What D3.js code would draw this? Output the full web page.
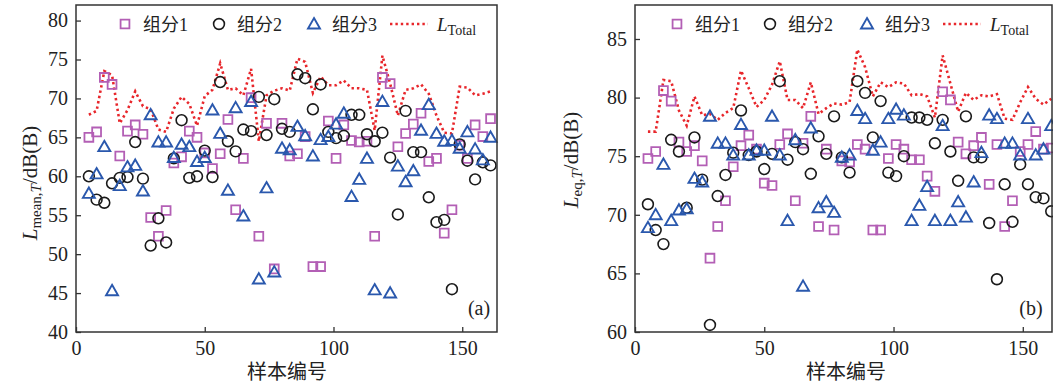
<!DOCTYPE html>
<html>
<head>
<meta charset="utf-8">
<script src="https://cdn.jsdelivr.net/npm/d3@7"></script>
<style>
  body { margin: 0; background: #fff; }
  svg text { font-family: "Liberation Serif", "Noto Sans CJK SC", serif; fill: #222; }
</style>
</head>
<body>
<svg width="1053" height="387"></svg>
<script>
// sample index (x position of every sample)
let samples = [5, 8, 11, 14, 17, 20, 23, 26, 29, 32, 35, 38, 41, 44, 47, 50, 53, 56, 59, 62,
  65, 68, 71, 74, 77, 80, 83, 86, 89, 92, 95, 98, 101, 104, 107, 110, 113, 116, 119, 122,
  125, 128, 131, 134, 137, 140, 143, 146, 149, 152, 155, 158, 161];

// (a) L_mean,T
let meanC1 = [65.0, 65.7, 72.7, 71.8, 62.6, 65.8, 66.6, 65.4, 54.7, 52.3, 55.6, 61.7, 62.5, 65.8, 65.0, 63.0, 61.0, 62.9, 67.3, 55.7,
  62.3, 70.1, 52.3, 66.8, 48.1, 66.8, 62.6, 62.9, 65.1, 48.4, 48.4, 67.1, 62.3, 66.6, 64.6, 64.4, 64.5, 52.3, 72.7, 71.9,
  63.8, 65.5, 66.7, 68.1, 61.9, 62.3, 52.7, 55.7, 64.0, 62.3, 66.6, 65.1, 67.4];
let meanC2 = [60.0, 57.0, 56.6, 59.1, 59.8, 59.9, 64.4, 59.7, 51.1, 54.6, 51.5, 62.3, 67.2, 59.8, 60.0, 63.3, 59.9, 72.1, 64.5, 63.2,
  66.0, 65.8, 70.2, 65.3, 69.9, 66.1, 65.7, 73.1, 72.6, 68.6, 71.8, 65.7, 64.9, 65.2, 67.9, 67.9, 65.4, 64.5, 65.6, 62.4,
  55.1, 68.4, 63.1, 63.1, 57.3, 54.1, 54.4, 45.5, 64.1, 62.0, 59.6, 61.8, 61.4];
let meanC3 = [57.8, 60.3, 63.8, 45.3, 58.8, 61.2, 61.4, 58.1, 67.9, 64.4, 64.4, 62.4, 64.1, 63.8, 61.9, 62.4, 68.5, 65.5, 58.2, 68.8,
  54.9, 69.6, 46.8, 58.5, 47.7, 63.6, 63.4, 66.4, 65.2, 62.6, 64.7, 65.1, 66.7, 68.1, 57.4, 59.6, 62.3, 45.4, 69.6, 45.0,
  61.3, 59.3, 60.7, 65.9, 69.2, 65.5, 64.5, 64.6, 63.6, 65.7, 63.5, 62.1, 65.0];
let meanTotal = [67.9, 68.4, 73.5, 73.0, 66.8, 68.5, 70.9, 69.0, 68.6, 66.0, 65.7, 68.7, 70.2, 69.3, 66.5, 70.3, 71.1, 74.5, 71.1, 71.3,
  70.4, 73.8, 64.5, 70.4, 71.0, 71.3, 71.0, 75.1, 74.7, 70.7, 72.8, 71.7, 71.7, 72.3, 71.3, 71.3, 71.1, 65.9, 75.5, 71.9,
  67.8, 71.1, 71.3, 71.8, 70.6, 67.8, 65.6, 65.5, 71.5, 71.4, 70.4, 70.6, 70.9];

// (b) L_eq,T
let eqC1 = [74.8, 75.4, 80.6, 79.7, 76.2, 75.4, 75.9, 74.6, 66.3, 69.0, 71.2, 74.1, 75.9, 76.8, 75.6, 72.7, 72.5, 76.0, 76.9, 71.2,
  76.1, 78.4, 69.0, 75.6, 68.7, 74.6, 74.5, 76.0, 75.6, 68.7, 68.7, 74.8, 76.0, 75.6, 74.7, 74.7, 73.3, 72.0, 80.5, 79.8,
  76.2, 75.2, 75.9, 76.6, 72.6, 76.0, 69.0, 71.2, 75.4, 76.0, 77.1, 75.6, 75.7];
let eqC2 = [70.9, 68.7, 67.5, 76.4, 75.4, 70.6, 76.6, 73.0, 60.6, 71.6, 73.4, 75.3, 78.9, 75.1, 75.4, 73.9, 75.2, 81.4, 74.7, 76.2,
  75.6, 73.5, 76.7, 75.2, 78.4, 74.9, 73.6, 81.4, 80.4, 76.6, 79.7, 73.6, 73.3, 75.0, 78.3, 78.3, 78.1, 76.1, 78.1, 75.4,
  72.9, 78.4, 74.9, 74.9, 69.3, 64.5, 72.6, 69.4, 74.3, 72.6, 71.5, 71.4, 70.3];
let eqC3 = [68.9, 70.0, 74.3, 69.5, 70.4, 70.5, 73.1, 72.8, 78.4, 76.1, 76.1, 75.1, 77.7, 75.1, 75.5, 75.5, 78.4, 75.1, 69.5, 76.4,
  63.9, 77.4, 70.6, 71.1, 70.2, 74.9, 75.1, 78.9, 78.2, 75.5, 76.2, 78.2, 79.0, 78.5, 69.5, 70.8, 72.4, 69.5, 77.6, 69.5,
  71.1, 69.8, 72.8, 75.3, 78.5, 78.2, 76.1, 76.1, 75.1, 78.2, 75.1, 75.6, 77.6];
let eqTotal = [77.1, 77.1, 81.5, 81.4, 78.9, 77.6, 80.1, 78.5, 78.6, 78.1, 78.7, 79.1, 82.3, 80.8, 79.2, 79.8, 81.1, 83.1, 79.8, 79.8,
  79.1, 81.3, 78.6, 79.1, 79.5, 79.4, 79.6, 84.1, 82.6, 80.1, 81.3, 80.9, 81.3, 81.2, 80.2, 80.3, 80.1, 78.3, 83.6, 81.2,
  78.8, 80.4, 79.8, 80.2, 80.1, 80.3, 78.2, 78.1, 79.6, 80.9, 79.9, 79.4, 79.9];

let xTicks = [0, 50, 100, 150];
let yTicksA = [40, 45, 50, 55, 60, 65, 70, 75, 80];
let yTicksB = [60, 65, 70, 75, 80, 85];
let legendNames = ["组分1", "组分2", "组分3"];

let c1Color = "#b35fb5";
let c2Color = "#1a1a1a";
let c3Color = "#2a58ad";
let totColor = "#e8262b";
let axisColor = "#333";

let svg = d3.select("svg");

function drawPanel(p) {
    let g = svg.append("g");
    let x = d3.scaleLinear().domain(p.xDomain).range([p.left, p.right]);
    let y = d3.scaleLinear().domain(p.yDomain).range([p.bottom, p.top]);

    // ticks (inward) on left and bottom
    let xAxis = d3.axisBottom(x).tickValues(xTicks).tickSize(-5).tickPadding(9).tickFormat(d3.format("d"));
    let yAxis = d3.axisLeft(y).tickValues(p.yTicks).tickSize(-5).tickPadding(8).tickFormat(d3.format("d"));

    let gx = g.append("g").attr("transform", "translate(0," + p.bottom + ")").call(xAxis);
    let gy = g.append("g").attr("transform", "translate(" + p.left + ",0)").call(yAxis);
    [gx, gy].forEach(a => {
        a.select(".domain").remove();
        a.selectAll("line").attr("stroke", axisColor).attr("stroke-width", 1.3);
        a.selectAll("text").style("font-size", "20px").attr("fill", "#222");
    });

    let plot = g.append("g");

    // total (dotted)
    let line = d3.line().x((d, i) => x(samples[i])).y(d => y(d));
    plot.append("path")
        .datum(p.total)
        .attr("fill", "none")
        .attr("stroke", totColor)
        .attr("stroke-width", 2.6)
        .attr("stroke-dasharray", "2.4 3")
        .attr("d", line);

    let sq = d3.symbol().type(d3.symbolSquare).size(78);
    let ci = d3.symbol().type(d3.symbolCircle).size(92);
    let tr = d3.symbol().type(d3.symbolTriangle).size(62);

    plot.selectAll(".c1").data(p.c1).enter().append("path")
        .attr("class", "c1")
        .attr("d", sq)
        .attr("transform", (d, i) => "translate(" + x(samples[i]) + "," + y(d) + ")")
        .attr("fill", "none").attr("stroke", c1Color).attr("stroke-width", 1.8);

    plot.selectAll(".c2").data(p.c2).enter().append("path")
        .attr("class", "c2")
        .attr("d", ci)
        .attr("transform", (d, i) => "translate(" + x(samples[i]) + "," + y(d) + ")")
        .attr("fill", "none").attr("stroke", c2Color).attr("stroke-width", 1.6);

    plot.selectAll(".c3").data(p.c3).enter().append("path")
        .attr("class", "c3")
        .attr("d", tr)
        .attr("transform", (d, i) => "translate(" + x(samples[i]) + "," + (y(d) + 1) + ")")
        .attr("fill", "none").attr("stroke", c3Color).attr("stroke-width", 1.9);

    // frame
    g.append("rect")
        .attr("x", p.left).attr("y", p.top)
        .attr("width", p.right - p.left).attr("height", p.bottom - p.top)
        .attr("fill", "none").attr("stroke", axisColor).attr("stroke-width", 1.5);

    // legend
    let ly = 24;
    let lg = g.append("g");
    lg.append("path").attr("d", sq).attr("transform", "translate(" + p.leg[0] + "," + ly + ")")
        .attr("fill", "none").attr("stroke", c1Color).attr("stroke-width", 1.8);
    lg.append("path").attr("d", ci).attr("transform", "translate(" + p.leg[1] + "," + ly + ")")
        .attr("fill", "none").attr("stroke", c2Color).attr("stroke-width", 1.6);
    lg.append("path").attr("d", tr).attr("transform", "translate(" + p.leg[2] + "," + (ly + 1) + ")")
        .attr("fill", "none").attr("stroke", c3Color).attr("stroke-width", 1.9);
    legendNames.forEach((n, i) => {
        lg.append("text").attr("x", p.leg[i] + 18).attr("y", ly + 7)
            .style("font-size", "18px").text(n);
    });
    lg.append("line").attr("x1", p.leg[3]).attr("x2", p.leg[3] + 38).attr("y1", ly).attr("y2", ly)
        .attr("stroke", totColor).attr("stroke-width", 2.6).attr("stroke-dasharray", "2.4 3");
    let lt = lg.append("text").attr("x", p.leg[3] + 47).attr("y", ly + 7).style("font-size", "19px");
    lt.append("tspan").style("font-style", "italic").text("L");
    lt.append("tspan").attr("dy", 4).style("font-size", "14px").text("Total");

    // y label
    let yl = g.append("text")
        .attr("transform", "translate(" + p.yLabelX + "," + p.yLabelY + ") rotate(-90)")
        .attr("text-anchor", "middle")
        .style("font-size", "21px");
    yl.append("tspan").style("font-style", "italic").text("L");
    yl.append("tspan").attr("dy", 4).style("font-size", "15px").text(p.sub + ",");
    yl.append("tspan").style("font-size", "15px").style("font-style", "italic").text("T");
    yl.append("tspan").attr("dy", -4).text("/dB(B)");

    // x label
    g.append("text")
        .attr("x", (p.left + 211)).attr("y", 379)
        .attr("text-anchor", "middle")
        .style("font-size", "20px")
        .text("样本编号");

    g.append("text")
        .attr("x", p.tagX).attr("y", 315)
        .attr("text-anchor", "middle")
        .style("font-size", "20px")
        .text(p.tag);
}

drawPanel({
    left: 76, right: 497, top: 5, bottom: 332,
    xDomain: [0, 163.5], yDomain: [40, 82], yTicks: yTicksA,
    c1: meanC1, c2: meanC2, c3: meanC3, total: meanTotal,
    leg: [125, 219, 314, 390],
    sub: "mean", yLabelX: 37, yLabelY: 183,
    tag: "(a)", tagX: 479
});

drawPanel({
    left: 635, right: 1052, top: 5, bottom: 332,
    xDomain: [0, 161.3], yDomain: [60, 87.9], yTicks: yTicksB,
    c1: eqC1, c2: eqC2, c3: eqC3, total: eqTotal,
    leg: [677, 770, 867, 943],
    sub: "eq", yLabelX: 578, yLabelY: 160,
    tag: "(b)", tagX: 1031
});
</script>
</body>
</html>
